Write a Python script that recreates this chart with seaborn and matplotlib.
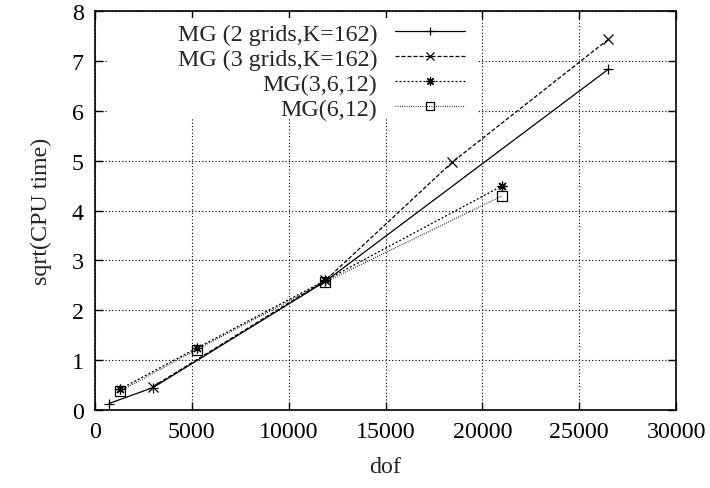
import numpy as np
import pandas as pd
import matplotlib
matplotlib.use("Agg")
import matplotlib.pyplot as plt
import seaborn as sns
from matplotlib.patches import Rectangle

# values
dof_2grids = [720, 3000, 11900, 26500]
cpu_2grids = [0.13, 0.45, 2.58, 6.83]
dof_3grids = [3000, 11900, 18450, 26500]
cpu_3grids = [0.47, 2.6, 4.97, 7.43]
dof_mg3612 = [1300, 5250, 11900, 21000]
cpu_mg3612 = [0.42, 1.24, 2.6, 4.49]
dof_mg612 = [1300, 5250, 11900, 21000]
cpu_mg612 = [0.38, 1.21, 2.57, 4.29]

labels = ["MG (2 grids,K=162)", "MG (3 grids,K=162)", "MG(3,6,12)", "MG(6,12)"]

sns.set_theme(style="ticks")
plt.rcParams['font.family'] = ['Liberation Serif', 'DejaVu Serif']
fs_txt = 17.3

fig = plt.figure(figsize=(7.1, 4.89), dpi=100)
ax = fig.add_axes([95 / 710, 1 - 411 / 489, 581 / 710, 399 / 489])
ax.set_axisbelow(True)

series = [
    (dof_2grids, cpu_2grids, '-', '+', 'full'),
    (dof_3grids, cpu_3grids, (0, (3.2, 1.6)), 'x', 'full'),
    (dof_mg3612, cpu_mg3612, (0, (1.6, 1.6)), (8, 2, 0), 'full'),
    (dof_mg612, cpu_mg612, (0, (0.6, 1.2)), 's', 'none'),
]
for (xs, ys, ls, mk, fs), lab in zip(series, labels):
    sns.lineplot(x=xs, y=ys, ax=ax, color='black', linewidth=0.9, linestyle=ls,
                 marker=mk, markersize=7, fillstyle=fs, markeredgecolor='black',
                 markeredgewidth=0.9, label=lab, sort=True, estimator=None,
                 zorder=3)

ax.set_xlim(0, 30000)
ax.set_ylim(0, 8)
ax.set_xticks(np.arange(0, 30001, 5000))
ax.set_yticks(np.arange(0, 9, 1))
ax.grid(True, color='black', linestyle=(0, (1, 2)), linewidth=0.8)
ax.tick_params(direction='in', length=6, width=1, top=True, right=True,
               labelsize=fs_txt, pad=8, colors='black')
for sp in ax.spines.values():
    sp.set_visible(True)
    sp.set_color('black')
    sp.set_linewidth(1.2)
    sp.set_zorder(5)
ax.set_facecolor('white')

# opaque key area (gnuplot blanks the grid behind the key)
ax.add_patch(Rectangle((0.021, 0.729), 0.638, 0.253, transform=ax.transAxes,
                       facecolor='white', edgecolor='none', zorder=1))

ax.set_xlabel("dof", fontsize=fs_txt, labelpad=10)
ax.set_ylabel("sqrt(CPU time)", fontsize=fs_txt, labelpad=14)

leg = ax.legend(loc='upper right', bbox_to_anchor=(465 / 710, 1 - 24 / 489),
                bbox_transform=fig.transFigure, frameon=False, markerfirst=False,
                handlelength=2.9, handletextpad=0.75, labelspacing=0.13,
                borderpad=0, borderaxespad=0, fontsize=fs_txt)
for line in leg.get_lines():
    line.set_markersize(6)

fig.savefig("out.png", dpi=100, facecolor='white')
